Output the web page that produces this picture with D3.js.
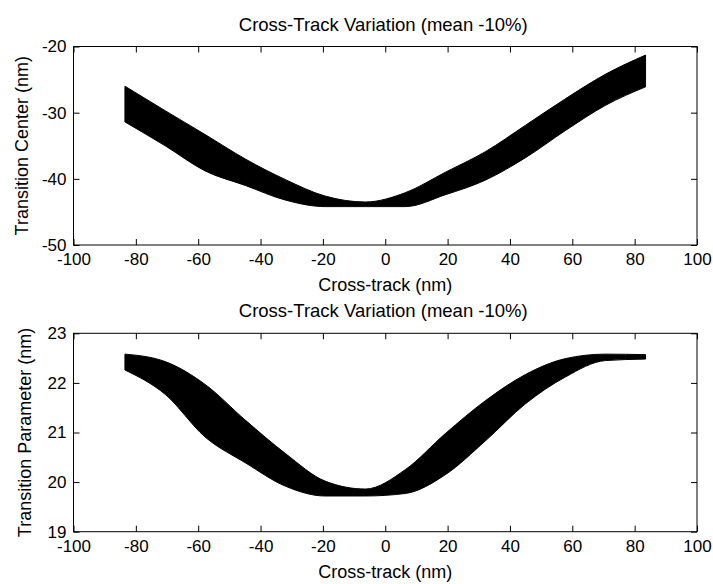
<!DOCTYPE html>
<html>
<head>
<meta charset="utf-8">
<script src="https://cdn.jsdelivr.net/npm/d3@7/dist/d3.min.js"></script>
<style>
  body { margin: 0; background: #fff; }
  svg text { font-family: "Liberation Sans", Arial, sans-serif; fill: #000; }
</style>
</head>
<body>
<div id="chart"></div>
<script>
// cross-track positions (nm) where the band edges were read
const crossTrack = [-83.5, -70.6, -57.8, -44.9, -32.1, -19.3, -6.4, 6.4, 19.3, 32.1, 45, 57.8, 70.6, 83.5]

// transition center (nm), band upper / lower edges
const centerUpper = [-26.0, -29.7, -33.3, -37.0, -40.1, -42.6, -43.5, -42.1, -39.0, -35.9, -31.9, -27.9, -24.2, -21.3]
const centerLower = [-31.4, -35.0, -38.8, -41.0, -43.2, -44.2, -44.2, -44.2, -42.4, -40.2, -36.8, -32.7, -28.9, -26.1]

// transition parameter (nm), band upper / lower edges
const paramUpper = [22.58, 22.43, 21.97, 21.25, 20.58, 20.02, 19.86, 20.25, 20.98, 21.64, 22.17, 22.49, 22.58, 22.57]
const paramLower = [22.26, 21.77, 20.91, 20.39, 19.92, 19.72, 19.72, 19.77, 20.15, 20.83, 21.58, 22.12, 22.45, 22.48]

const xTicks = [-100, -80, -60, -40, -20, 0, 20, 40, 60, 80, 100]
const centerTicks = [-50, -40, -30, -20]
const paramTicks = [19, 20, 21, 22, 23]

const titleText = "Cross-Track Variation (mean -10%)"
const xLabel = "Cross-track (nm)"

const width = 713, height = 584

const svg = d3.select("#chart").append("svg")
    .attr("width", width)
    .attr("height", height)

function drawPanel(top, bottom, upper, lower, yDomain, yTicks, yLabel, yLabelX) {
    const left = 73.5, right = 697

    const x = d3.scaleLinear().domain([-100, 100]).range([left, right])
    const y = d3.scaleLinear().domain(yDomain).range([bottom, top])

    const g = svg.append("g")

    const data = crossTrack.map((c, i) => ({ x: c, hi: upper[i], lo: lower[i] }))

    const area = d3.area()
        .curve(d3.curveMonotoneX)
        .x(d => x(d.x))
        .y0(d => y(d.lo))
        .y1(d => y(d.hi))

    g.append("path")
        .datum(data)
        .attr("fill", "#000")
        .attr("stroke", "#000")
        .attr("stroke-width", 1)
        .attr("d", area)

    // axes with inward ticks, MATLAB box style
    const fontSize = "17px"
    const fmt = d => String(d)
    g.append("g")
        .attr("transform", `translate(0,${bottom})`)
        .call(d3.axisBottom(x).tickValues(xTicks).tickFormat(fmt).tickSizeInner(-6).tickSizeOuter(0).tickPadding(8))
        .call(a => a.select(".domain").remove())
        .call(a => a.selectAll("text").style("font-size", fontSize).attr("font-family", null))
    g.append("g")
        .attr("transform", `translate(0,${top})`)
        .call(d3.axisTop(x).tickValues(xTicks).tickSizeInner(-6).tickSizeOuter(0).tickFormat(""))
        .call(a => a.select(".domain").remove())
    g.append("g")
        .attr("transform", `translate(${left},0)`)
        .call(d3.axisLeft(y).tickValues(yTicks).tickFormat(fmt).tickSizeInner(-6).tickSizeOuter(0).tickPadding(7))
        .call(a => a.select(".domain").remove())
        .call(a => a.selectAll("text").style("font-size", fontSize).attr("font-family", null))
    g.append("g")
        .attr("transform", `translate(${right},0)`)
        .call(d3.axisRight(y).tickValues(yTicks).tickSizeInner(-6).tickSizeOuter(0).tickFormat(""))
        .call(a => a.select(".domain").remove())

    g.append("rect")
        .attr("x", left).attr("y", top)
        .attr("width", right - left).attr("height", bottom - top)
        .attr("fill", "none").attr("stroke", "#000").attr("stroke-width", 1)

    g.append("text")
        .attr("x", (left + right) / 2 - 2)
        .attr("y", top - 16)
        .attr("text-anchor", "middle")
        .style("font-size", "18.5px")
        .text(titleText)

    g.append("text")
        .attr("x", (left + right) / 2)
        .attr("y", bottom + 46)
        .attr("text-anchor", "middle")
        .style("font-size", "18px")
        .text(xLabel)

    g.append("text")
        .attr("transform", `translate(${yLabelX},${(top + bottom) / 2}) rotate(-90)`)
        .attr("text-anchor", "middle")
        .style("font-size", "18px")
        .text(yLabel)
}

drawPanel(46.5, 245, centerUpper, centerLower, [-50, -20], centerTicks, "Transition Center (nm)", 28)
drawPanel(333.3, 531.7, paramUpper, paramLower, [19, 23], paramTicks, "Transition Parameter (nm)", 31)
</script>
</body>
</html>
